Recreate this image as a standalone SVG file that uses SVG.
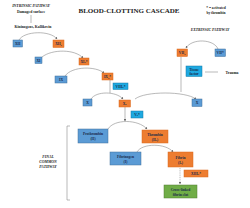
<svg xmlns="http://www.w3.org/2000/svg" width="250" height="208" viewBox="0 0 250 208">
<defs>
<style>
.t{font-family:"Liberation Serif",serif;font-weight:bold;fill:#222;text-anchor:middle}
.bt{font-family:"Liberation Serif",serif;font-weight:bold;fill:#1a2a4a;text-anchor:middle;font-size:3.6px}
.blue{fill:#5b9bd5;stroke:#41719c;stroke-width:0.5}
.cyan{fill:#1ea9e1;stroke:#157aa6;stroke-width:0.5}
.orange{fill:#ed7d31;stroke:#d96a1f;stroke-width:0.5}
.green{fill:#70ad47;stroke:#507e32;stroke-width:0.5}
.c{fill:none;stroke:#8a8a8a;stroke-width:0.6}
</style>
<marker id="ah" viewBox="0 0 6 6" refX="5" refY="3" markerWidth="4" markerHeight="4" orient="auto"><path d="M0,0 L6,3 L0,6 z" fill="#6a6a6a"/></marker>
</defs>
<rect width="250" height="208" fill="#fff"/>
<text class="t" x="129" y="13" font-size="7">BLOOD-CLOTTING CASCADE</text>
<text class="t" x="216" y="9" font-size="3.6" font-weight="normal">* = activated</text>
<text class="t" x="216" y="14" font-size="3.6" font-weight="normal">by thrombin</text>
<text class="t" x="31" y="7" font-size="3.8" font-style="italic">INTRINSIC PATHWAY</text>
<text class="t" x="31" y="13" font-size="3.8">Damaged surface</text>
<text class="t" x="33" y="28" font-size="3.8">Kininogens, Kallikrein</text>
<text class="t" x="210" y="31" font-size="3.8" font-style="italic">EXTRINSIC PATHWAY</text>
<text class="t" x="48" y="158" font-size="3.8" font-style="italic">FINAL</text>
<text class="t" x="48" y="163" font-size="3.8" font-style="italic">COMMON</text>
<text class="t" x="48" y="168" font-size="3.8" font-style="italic">PATHWAY</text>
<text class="t" x="232" y="73.5" font-size="3.8">Trauma</text>
<g id="connectors">
<path class="c" d="M31,15 V23"/>
<path class="c" d="M19,40 C24,31 50,30 57,39" marker-end="url(#ah)"/>
<path class="c" d="M42,57 C52,49 75,49 83,58" marker-end="url(#ah)"/>
<path class="c" d="M65,76 C72,66 96,66 104,73" marker-end="url(#ah)"/>
<path class="c" d="M110,80 V93"/>
<path class="c" d="M91,99 C96,91 116,91 123,99" marker-end="url(#ah)"/>
<path class="c" d="M135,99 C145,91 185,91 196,99" marker-end="url(#ah)"/>
<path class="c" d="M218,49 C214,39 192,38 186,48" marker-end="url(#ah)"/>
<path class="c" d="M181,57 V92"/>
<path class="c" d="M218,72 H205"/>
<path class="c" d="M125,107 V121" marker-end="url(#ah)"/>
<path class="c" d="M108,129 C114,119 138,119 147,129" marker-end="url(#ah)"/>
<path class="c" d="M137,152 C142,143 166,143 173,152" marker-end="url(#ah)"/>
<path class="c" d="M180,168 V184" stroke-dasharray="1,0.8" marker-end="url(#ah)"/>
<path class="c" d="M70,126 H67 V200 H70"/>
</g>
<g id="XII"><rect class="blue" x="13" y="40" width="9.5" height="7"/><text class="bt" x="17.7" y="44.8">XII</text></g>
<g id="XIIa"><rect class="orange" x="53" y="40" width="11" height="7.5"/><text class="bt" x="58.5" y="45">XII<tspan font-size="2.6" dy="0.8">a</tspan></text></g>
<g id="XI"><rect class="blue" x="35" y="57" width="7" height="6.5"/><text class="bt" x="38.5" y="61.5">XI</text></g>
<g id="XIa"><rect class="orange" x="79" y="58" width="10" height="7"/><text class="bt" x="84" y="62.5">XI<tspan font-size="2.6" dy="0.8">a</tspan><tspan dy="-0.8">*</tspan></text></g>
<g id="IX"><rect class="blue" x="55" y="76" width="12" height="7"/><text class="bt" x="61" y="80.8">IX</text></g>
<g id="IXa"><rect class="orange" x="102" y="73" width="11" height="7"/><text class="bt" x="107.5" y="77.8">IX<tspan font-size="2.6" dy="0.8">a</tspan><tspan dy="-0.8">*</tspan></text></g>
<g id="VIIIa"><rect class="cyan" x="113" y="83" width="15" height="6.5"/><text class="bt" x="120.5" y="87.5">VIII<tspan font-size="2.6" dy="0.8">a</tspan><tspan dy="-0.8">*</tspan></text></g>
<g id="X-left"><rect class="blue" x="83" y="99" width="9" height="7"/><text class="bt" x="87.5" y="103.8">X</text></g>
<g id="Xa"><rect class="orange" x="119" y="100" width="11.5" height="7"/><text class="bt" x="124.7" y="104.6">X<tspan font-size="2.6" dy="0.8">a</tspan></text></g>
<g id="X-right"><rect class="blue" x="192" y="99" width="10" height="7.5"/><text class="bt" x="197" y="104">X</text></g>
<g id="Va"><rect class="cyan" x="131" y="111" width="12" height="7"/><text class="bt" x="137" y="115.6">V<tspan font-size="2.6" dy="0.8">a</tspan><tspan dy="-0.8">*</tspan></text></g>
<g id="VIIa"><rect class="orange" x="177" y="49" width="10.5" height="7.5"/><text class="bt" x="182.2" y="54">VII<tspan font-size="2.6" dy="0.8">a</tspan></text></g>
<g id="VII"><rect class="blue" x="215" y="49" width="10.5" height="7.5"/><text class="bt" x="220.2" y="54">VII*</text></g>
<g id="TissueFactor"><rect class="cyan" x="186" y="66" width="16" height="10.5"/><text class="bt" x="194" y="70.5">Tissue</text><text class="bt" x="194" y="74.5">factor</text></g>
<g id="Prothrombin"><rect class="blue" x="78" y="129" width="30" height="14"/><text class="bt" x="93" y="135">Prothrombin</text><text class="bt" x="93" y="140">(II)</text></g>
<g id="Thrombin"><rect class="orange" x="142" y="130" width="26" height="13"/><text class="bt" x="155" y="135.5">Thrombin</text><text class="bt" x="155" y="140.5">(II<tspan font-size="2.6" dy="0.8">a</tspan><tspan dy="-0.8">)</tspan></text></g>
<g id="Fibrinogen"><rect class="blue" x="110" y="152" width="31" height="13"/><text class="bt" x="125.5" y="157.5">Fibrinogen</text><text class="bt" x="125.5" y="162.5">(I)</text></g>
<g id="Fibrin"><rect class="orange" x="168" y="152" width="25" height="15"/><text class="bt" x="180.5" y="158.5">Fibrin</text><text class="bt" x="180.5" y="163.5">(I<tspan font-size="2.6" dy="0.8">a</tspan><tspan dy="-0.8">)</tspan></text></g>
<g id="XIIIa"><rect class="orange" x="184" y="170" width="24" height="7"/><text class="bt" x="196" y="174.6">XIII<tspan font-size="2.6" dy="0.8">a</tspan><tspan dy="-0.8">*</tspan></text></g>
<g id="Clot"><rect class="green" x="164" y="185" width="33" height="13"/><text class="bt" x="180.5" y="190.5">Cross-linked</text><text class="bt" x="180.5" y="195.5">fibrin clot</text></g>
</svg>
